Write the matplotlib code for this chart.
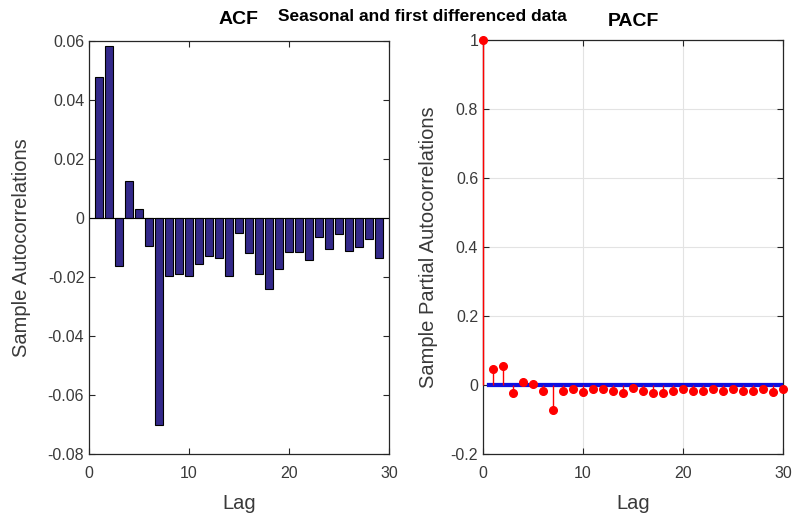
import numpy as np
import matplotlib
matplotlib.use("Agg")
import matplotlib.pyplot as plt
from matplotlib.ticker import FuncFormatter

plt.rcParams['font.family'] = ['Liberation Sans', 'DejaVu Sans']
plt.rcParams['axes.unicode_minus'] = False

# sample autocorrelations, lags 1..29
acf_lags = np.arange(1, 30)
acf_vals = [0.0479, 0.0584, -0.0163, 0.0125, 0.0029, -0.0095, -0.0703, -0.0197,
            -0.0191, -0.0197, -0.0157, -0.0129, -0.0134, -0.0197, -0.0051, -0.0119,
            -0.0191, -0.0239, -0.0172, -0.0115, -0.0115, -0.0143, -0.0066, -0.0106,
            -0.0055, -0.0112, -0.0100, -0.0072, -0.0134]

# sample partial autocorrelations, lags 0..30
pacf_lags = np.arange(0, 31)
pacf_vals = [1.0, 0.046, 0.056, -0.023, 0.010, 0.003, -0.016, -0.072, -0.016,
             -0.013, -0.019, -0.012, -0.013, -0.016, -0.023, -0.008, -0.016,
             -0.023, -0.023, -0.016, -0.013, -0.016, -0.016, -0.013, -0.016,
             -0.013, -0.016, -0.016, -0.013, -0.019, -0.012]
bound = 0.0035

axcol = '#262626'
lblcol = '#3a3a3a'
fmt = FuncFormatter(lambda v, p: '%g' % round(v, 6))

fig = plt.figure(figsize=(7.92, 5.19), dpi=100)
ax1 = fig.add_axes([89/792, 1 - 454/519, 300/792, 413/519])
ax2 = fig.add_axes([483/792, 1 - 454/519, 300/792, 414/519])

ax1.bar(acf_lags, acf_vals, width=0.75, color='#33298A', edgecolor='black', linewidth=0.8)
ax1.axhline(0, color='black', lw=0.8)
ax1.set_xlim(0, 30)
ax1.set_ylim(-0.08, 0.06)
ax1.set_xticks([0, 10, 20, 30])
ax1.set_yticks(np.arange(-0.08, 0.061, 0.02))
ax1.yaxis.set_major_formatter(fmt)
ax1.set_xlabel('Lag', fontsize=14.5, color=lblcol, labelpad=9)
ax1.set_ylabel('Sample Autocorrelations', fontsize=14.5, color=lblcol, labelpad=12)
ax1.set_title('ACF', fontsize=14, fontweight='bold', pad=12)

mk, st, bl = ax2.stem(pacf_lags, pacf_vals, basefmt=' ')
plt.setp(st, color='red', linewidth=1, clip_on=False, zorder=5)
plt.setp(mk, color='red', markersize=5.5, clip_on=False, zorder=6)
ax2.plot([0.5, 30], [bound, bound], color='#1010E0', lw=1.6, zorder=4)
ax2.plot([0.5, 30], [-bound, -bound], color='#1010E0', lw=1.6, zorder=4)
ax2.set_xlim(0, 30)
ax2.set_ylim(-0.2, 1)
ax2.set_xticks([0, 10, 20, 30])
ax2.set_yticks(np.arange(-0.2, 1.01, 0.2))
ax2.yaxis.set_major_formatter(fmt)
ax2.grid(True, color='#e3e3e3', lw=0.8)
ax2.set_axisbelow(True)
ax2.set_xlabel('Lag', fontsize=14.5, color=lblcol, labelpad=9)
ax2.set_ylabel('Sample Partial Autocorrelations', fontsize=14.5, color=lblcol, labelpad=9)
ax2.set_title('PACF', fontsize=14, fontweight='bold', pad=10)

for ax in (ax1, ax2):
    for s in ax.spines.values():
        s.set_color(axcol)
        s.set_linewidth(0.9)
    ax.tick_params(direction='in', top=True, right=True, length=4, width=0.8,
                   colors=axcol, labelsize=11.5, labelcolor=lblcol)
    ax.tick_params(axis='x', pad=9)

fig.text(0.533, 0.968, 'Seasonal and first differenced data', ha='center', va='center',
         fontsize=12.5, fontweight='bold')

fig.savefig('out.png', dpi=100)
